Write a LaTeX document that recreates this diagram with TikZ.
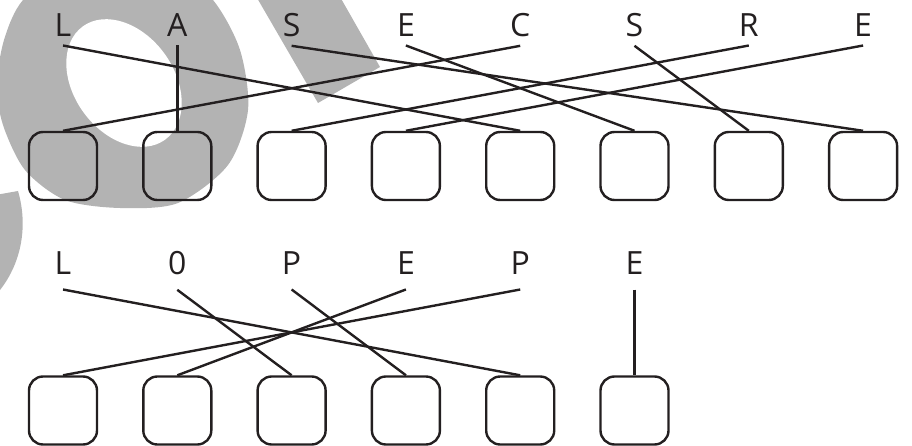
\documentclass[tikz,border=0pt]{standalone}
\usepackage{fontspec}
\setmainfont{Open Sans}
\usepackage{tikz}

\definecolor{ink}{HTML}{231F20}
\definecolor{wmgray}{HTML}{B3B3B3}

\begin{document}
\begin{tikzpicture}[x=1pt,y=-1pt,
    box/.style={draw=ink,line width=2.4pt,rounded corners=14pt,minimum size=68pt,inner sep=0pt},
    letter/.style={text=ink,font=\fontsize{32}{32}\selectfont,inner sep=0pt,anchor=base},
    link/.style={draw=ink,line width=2.4pt}]
    \useasboundingbox (0,0) rectangle (912,446);
    \clip (0,0) rectangle (912,446);

    % draw grey watermark
    \fill[wmgray] plot[smooth cycle] coordinates {(23,0) (4,40) (-3,85) (3,125) (25,170) (65,200)
      (120,208) (178,203) (228,165) (248,110) (240,50) (213,0) (170,-35) (70,-35)};
    \fill[white] (124,83) ellipse [x radius=70,y radius=50,rotate=-54];
    \fill[wmgray] (235,-40) -- (319,-40) -- (380,67) -- (318,103) -- cycle;
    \fill[wmgray] (-10,196) -- (18,191) .. controls (28,225) and (22,262) .. (0,290) -- (-10,290) -- cycle;

    % draw letters
    \foreach \t [count=\i] in {L,A,S,E,C,S,R,E}
      \node[letter,outer sep=8.5pt] (t\i) at ({63+114.3*(\i-1)},37) {\t};
    \foreach \t [count=\i] in {L,0,P,E,P,E}
      \node[letter,outer sep=15.5pt] (u\i) at ({63+114.3*(\i-1)},274) {\t};

    % draw boxes
    \foreach \i in {1,...,8}
      \node[box] (tb\i) at ({63+114.3*(\i-1)},166) {};
    \foreach \i in {1,...,6}
      \node[box] (ub\i) at ({63+114.3*(\i-1)},410.5) {};

    % draw lines
    \foreach \i/\j in {1/5,2/2,3/8,4/6,5/1,6/7,7/3,8/4}
      \draw[link] (t\i.south) -- (tb\j.north);
    \foreach \i/\j in {1/5,2/3,3/4,4/2,5/1,6/6}
      \draw[link] (u\i.south) -- (ub\j.north);
  \end{tikzpicture}
\end{document}
